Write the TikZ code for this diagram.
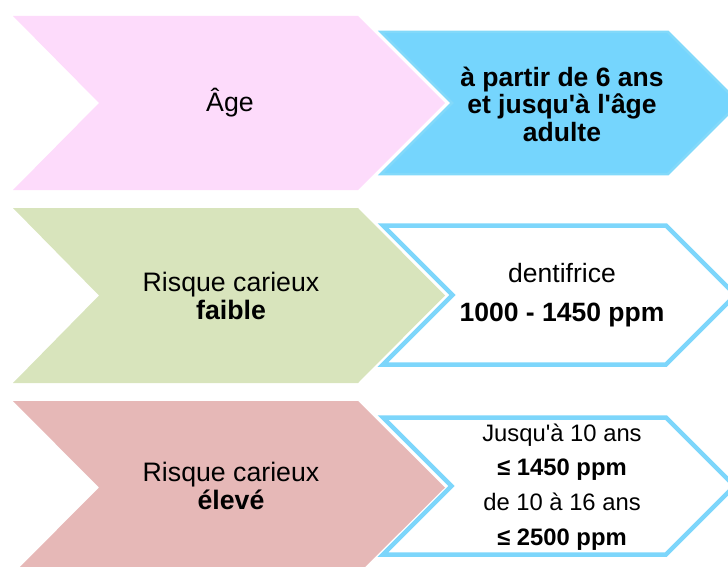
\documentclass[tikz,border=0pt]{standalone}
\usepackage{fontspec}
\setmainfont{Liberation Sans}[Ligatures=TeXOff]
\definecolor{pinkA}{RGB}{253,219,251}
\definecolor{blueA}{RGB}{117,213,253}
\definecolor{blueB}{RGB}{130,217,250}
\definecolor{greenA}{RGB}{216,228,188}
\definecolor{redA}{RGB}{230,184,183}
\definecolor{outl}{RGB}{125,214,251}
\begin{document}
\begin{tikzpicture}[x=1pt,y=-1pt,
  lbl/.style={align=center,inner sep=0pt,font=\fontsize{26.7}{27.5}\selectfont},
  lblbold/.style={align=center,inner sep=0pt,font=\bfseries\fontsize{26.5}{27.5}\selectfont},
  lblsmall/.style={align=center,inner sep=0pt,font=\fontsize{23.8}{34.7}\selectfont},
  lblwide/.style={align=center,inner sep=0pt,font=\fontsize{26.5}{39}\selectfont},
  whitechev/.style={draw=outl,line width=4.5pt,fill=white,line join=miter},
  bluechev/.style={draw=blueB,line width=2.5pt,fill=blueA,line join=miter}]
\useasboundingbox (0,0) rectangle (728,567);
\clip (0,0) rectangle (728,567);
% row 1
\fill[pinkA] (13,16) -- (358,16) -- (445,103) -- (358,190) -- (13,190) -- (99,103) -- cycle;
\draw[bluechev] (381,32) -- (668,32) -- (739,103) -- (668,174) -- (381,174) -- (452,103) -- cycle;
\node[lbl] (age) at (230,103) {Âge};
\node[lblbold] (agev) at (562,104) {à partir de 6 ans\\et jusqu'à l'âge\\adulte};
% row 2
\fill[greenA] (13,208) -- (358,208) -- (445,295.5) -- (358,383) -- (13,383) -- (99,295.5) -- cycle;
\draw[whitechev] (383,225.5) -- (666,225.5) -- (735.5,295) -- (666,364.5) -- (383,364.5) -- (452.5,295) -- cycle;
\node[lbl] (faible) at (231,296) {Risque carieux\\\textbf{faible}};
\node[lblwide] (faiblev) at (562,295) {dentifrice\\\textbf{1000 - 1450 ppm}};
% row 3
\fill[redA] (13,401) -- (358,401) -- (445,487.5) -- (358,574) -- (13,574) -- (99,487.5) -- cycle;
\draw[whitechev] (383,417.5) -- (666,417.5) -- (734.5,486) -- (666,554.5) -- (383,554.5) -- (451.5,486) -- cycle;
\node[lbl] (eleve) at (231,486) {Risque carieux\\\textbf{élevé}};
\node[lblsmall] (elevev) at (562,487) {Jusqu'à 10 ans\\\textbf{≤ 1450 ppm}\\de 10 à 16 ans\\\textbf{≤ 2500 ppm}};
\end{tikzpicture}
\end{document}
